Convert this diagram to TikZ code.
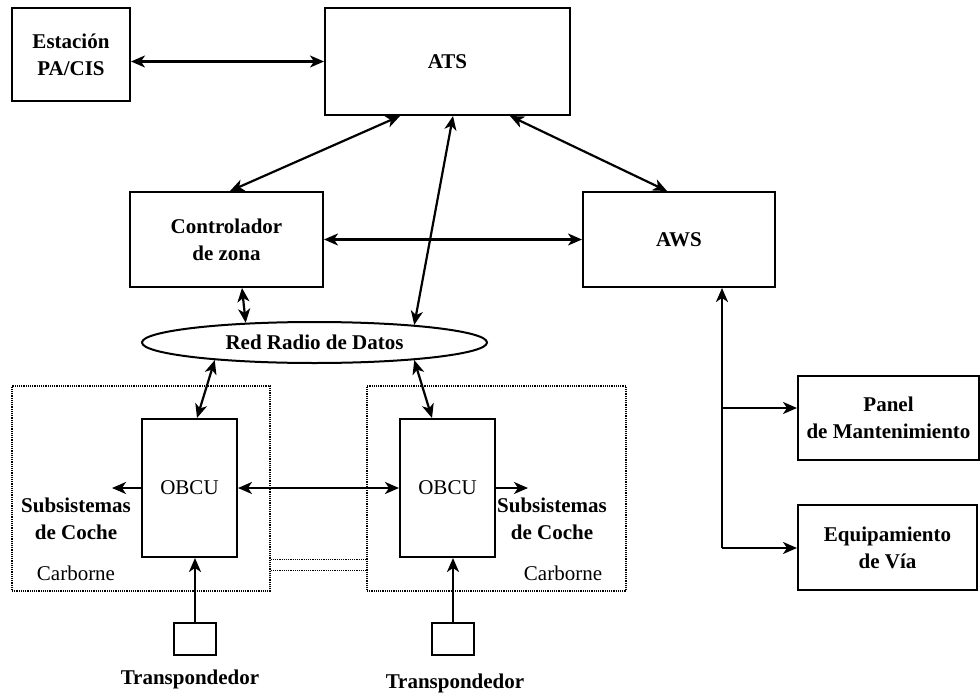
\documentclass[tikz,border=0pt]{standalone}
\usepackage{fontspec}
\setmainfont{LiberationSerif}[Extension=.ttf, UprightFont=*-Regular, BoldFont=*-Bold, ItalicFont=*-Italic, BoldItalicFont=*-BoldItalic]
\usetikzlibrary{arrows.meta,shapes.geometric,calc}
\newcommand{\dfont}{\fontsize{21}{27}\selectfont}
\begin{document}
\begin{tikzpicture}[x=1pt,y=-1pt,
  box/.style={draw, line width=2pt, inner sep=0pt, align=center, font=\dfont\bfseries},
  rbox/.style={draw, line width=2pt, inner sep=0pt, align=center, font=\dfont},
  carbox/.style={draw, densely dotted, line width=1.2pt, inner sep=0pt},
  lbl/.style={align=center, font=\dfont\bfseries, inner sep=0pt},
  rlbl/.style={align=center, font=\dfont, inner sep=0pt},
  conn/.style={line width=2.2pt, >={Stealth[length=14pt,width=12pt,inset=4pt]}},
  dline/.style={densely dotted, line width=1.2pt}]
\useasboundingbox (0,0) rectangle (980,696);

% boxes
\node[box, minimum width=118pt, minimum height=93pt] (est) at (71,54.5) {Estación\\PA/CIS};
\node[box, minimum width=245pt, minimum height=107pt] (ats) at (447.5,61.5) {ATS};
\node[box, minimum width=193pt, minimum height=95pt] (ctrl) at (226.5,239.5) {Controlador\\de zona};
\node[box, minimum width=192pt, minimum height=95pt] (aws) at (679,239.5) {AWS};
\node[draw, ellipse, line width=2pt, inner sep=0pt, minimum width=345pt, minimum height=41pt, font=\dfont\bfseries] (radio) at (314.5,342.5) {Red Radio de Datos};

\node[carbox, minimum width=258pt, minimum height=205pt] (carL) at (141,488.5) {};
\node[carbox, minimum width=259pt, minimum height=205pt] (carR) at (496.5,488.5) {};

\node[rbox, minimum width=95pt, minimum height=138pt] (obcuL) at (189.5,488) {OBCU};
\node[rbox, minimum width=95pt, minimum height=138pt] (obcuR) at (447.5,488) {OBCU};

\node[box, minimum width=42pt, minimum height=32pt] (transL) at (195,639) {};
\node[box, minimum width=42pt, minimum height=32pt] (transR) at (453,639) {};

\node[box, minimum width=181pt, minimum height=84pt] (panel) at (888.5,418) {Panel\\de Mantenimiento};
\node[box, minimum width=179pt, minimum height=85pt] (equip) at (887.5,547.5) {Equipamiento\\de Vía};

% labels
\node[lbl] (subL) at (76,519) {Subsistemas\\de Coche};
\node[lbl] (subR) at (552,519) {Subsistemas\\de Coche};
\node[rlbl] (carbL) at (76,573) {Carborne};
\node[rlbl] (carbR) at (563,573) {Carborne};
\node[lbl] (tlabL) at (190,679) {Transpondedor};
\node[lbl] (tlabR) at (455,683) {Transpondedor};

% connectors
\draw[conn,<->] (est.east |- ats.west) -- (ats.west);
\draw[conn,<->] ([xshift=-47.5pt]ats.south) -- ([xshift=3.5pt]ctrl.north);
\draw[conn,<->] ([xshift=5.5pt]ats.south) -- (radio.10);
\draw[conn,<->] ([xshift=62.5pt]ats.south) -- ([xshift=-12pt]aws.north);
\draw[conn,<->] (ctrl.east) -- (aws.west);
\draw[conn,<->] ([xshift=15.5pt]ctrl.south) -- (radio.164);
\draw[conn,<->] (radio.190) -- ([xshift=7.5pt]obcuL.north);
\draw[conn,<->] (radio.350) -- ([xshift=-15.5pt]obcuR.north);
\draw[conn,<->] (obcuL.east) -- (obcuR.west);
\coordinate (sl) at (112,488);
\coordinate (sr) at (528,488);
\draw[conn,->] (obcuL.west) -- (sl);
\draw[conn,->] (obcuR.east) -- (sr);
\draw[conn,->] (transL.north) -- (transL.north |- obcuL.south);
\draw[conn,->] (transR.north) -- (transR.north |- obcuR.south);

\coordinate (j1) at (722,408);
\coordinate (j2) at (722,548);
\draw[conn,->] (j2) -- (j2 |- aws.south);
\draw[conn,->] (j1) -- (j1 -| panel.west);
\draw[conn,->] (j2) -- (j2 -| equip.west);

\draw[dline] ([yshift=32pt]carL.south east) -- ([yshift=32pt]carR.south west);
\draw[dline] ([yshift=21pt]carL.south east) -- ([yshift=21pt]carR.south west);
\end{tikzpicture}
\end{document}
